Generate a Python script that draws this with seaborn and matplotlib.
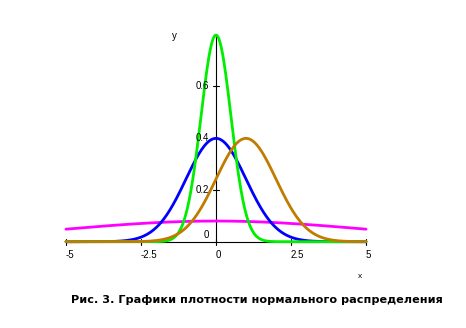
import numpy as np
import pandas as pd
import matplotlib
matplotlib.use("Agg")
import matplotlib.pyplot as plt
import seaborn as sns

# Parameters of the normal densities shown
curve_names = ["sigma5", "std", "sigma05", "mu1"]
means = [0.0, 0.0, 0.0, 1.0]
sigmas = [5.0, 1.0, 0.5, 1.0]
colors = ["#ff00ff", "#0000ff", "#00ee00", "#c07c00"]

x_ticks = [-5, -2.5, 0, 2.5, 5]
x_tick_labels = ["-5", "-2.5", "0", "2.5", "5"]
y_ticks = [0.2, 0.4, 0.6]
y_tick_labels = ["0.2", "0.4", "0.6"]
caption = "Рис. 3. Графики плотности нормального распределения"

x = np.linspace(-5, 5, 501)
frames = []
for name, m, s in zip(curve_names, means, sigmas):
    y = np.exp(-0.5 * ((x - m) / s) ** 2) / (s * np.sqrt(2 * np.pi))
    frames.append(pd.DataFrame({"x": x, "y": y, "curve": name}))
df = pd.concat(frames, ignore_index=True)

sns.set_style("white")
plt.rcParams["font.family"] = ["Liberation Sans", "DejaVu Sans"]
plt.rcParams["text.color"] = "black"

fig = plt.figure(figsize=(4.66, 3.28), dpi=100)
ax = fig.add_axes([0, 0, 1, 1])
ax.set_xlim(-7.2, 8.333)
ax.set_ylim(-0.3332, 0.9332)
ax.axis("off")

# axes lines
ax.plot([-5, 5], [0, 0], color="black", lw=0.8, zorder=1)
ax.plot([0, 0], [0, 0.80], color="black", lw=0.8, zorder=1)
for t in x_ticks:
    ax.plot([t, t], [-0.012, 0.012], color="black", lw=0.8, zorder=1)
for t in y_ticks:
    ax.plot([-0.1, 0.1], [t, t], color="black", lw=0.8, zorder=1)

sns.lineplot(data=df, x="x", y="y", hue="curve", hue_order=curve_names,
             palette=dict(zip(curve_names, colors)), legend=False,
             sort=False, lw=2.0, ax=ax, zorder=3)

for t, lab in zip(x_ticks, x_tick_labels):
    ax.text(t, -0.051, lab, ha="left", va="center", fontsize=7, color="black")
for t, lab in zip(y_ticks, y_tick_labels):
    ax.text(-0.23, t, lab, ha="right", va="center", fontsize=7, color="black")
ax.text(-0.23, 0.026, "0", ha="right", va="center", fontsize=7, color="black")
ax.text(4.8, -0.136, "x", ha="center", va="center", fontsize=6, color="black")
ax.text(-1.4, 0.794, "y", ha="center", va="center", fontsize=7, color="black")

fig.text(256.5 / 466, 1 - 300 / 328, caption, ha="center", va="center",
         fontsize=8.1, fontweight="bold", family=["DejaVu Sans"], color="black")

fig.savefig("out.png", dpi=100)
